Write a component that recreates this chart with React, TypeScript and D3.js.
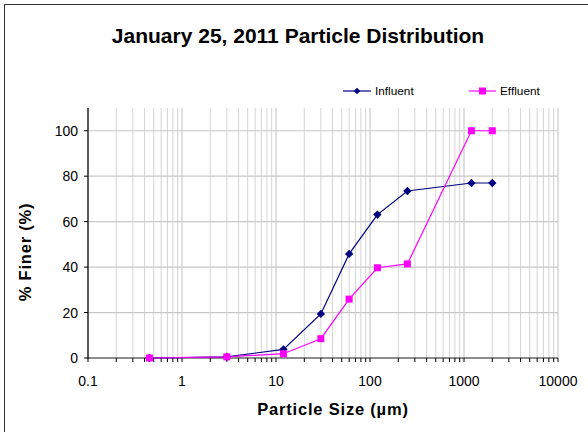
import React from "react";
import * as d3 from "d3";

const sizes = [0.45, 3, 12, 30, 60, 120, 250, 1200, 2000];
const influent = [0, 0.5, 3.8, 19.4, 45.8, 63.1, 73.5, 77, 77];
const effluent = [0, 0.5, 1.9, 8.5, 25.9, 39.7, 41.4, 100, 100];
const xTicks = [0.1, 1, 10, 100, 1000, 10000];
const yTicks = [0, 20, 40, 60, 80, 100];

const W = 588, H = 432;
const L = 88, R = 558, T = 108, B = 358;

const diamond = "M0,-4.2L4.2,0L0,4.2L-4.2,0Z";

export default function App() {
  const x = d3.scaleLog().domain([0.1, 10000]).range([L, R]);
  const y = d3.scaleLinear().domain([0, 110]).range([B, T]);
  const minor: number[] = [];
  for (let e = -1; e < 4; e++) {
    for (let m = 2; m <= 9; m++) minor.push(m * Math.pow(10, e));
  }
  const line = d3
    .line<number>()
    .x((_, i) => x(sizes[i]))
    .y((d) => y(d));
  const font = "Arial, 'Liberation Sans', sans-serif";
  return (
    <svg width={W} height={H} style={{ position: "absolute", left: 0, top: 0 }} fontFamily={font}>
      <rect x={0} y={0} width={W} height={H} fill="#fff" />
      <rect x={4.5} y={4.5} width={W + 10} height={H + 10} fill="none" stroke="#333" strokeWidth={1} />
      <text x={298} y={43} textAnchor="middle" fontSize={21} fontWeight="bold">
        January 25, 2011 Particle Distribution
      </text>
      {/* grid */}
      {minor.map((v) => (
        <line key={"m" + v} x1={x(v)} x2={x(v)} y1={T} y2={B} stroke="#d4d4d4" strokeWidth={1} />
      ))}
      {xTicks.map((v) => (
        <line key={"g" + v} x1={x(v)} x2={x(v)} y1={T} y2={B} stroke="#c0c0c0" strokeWidth={1} />
      ))}
      {yTicks.slice(1).map((v) => (
        <line key={"h" + v} x1={L} x2={R} y1={y(v)} y2={y(v)} stroke="#c8c8c8" strokeWidth={1.2} />
      ))}
      {/* axes */}
      <line x1={L} x2={R} y1={B} y2={B} stroke="#666" strokeWidth={1.5} />
      <line x1={L} x2={L} y1={T} y2={B + 1} stroke="#000" strokeWidth={1.2} />
      {[...minor, ...xTicks].map((v) => (
        <line key={"t" + v} x1={x(v)} x2={x(v)} y1={B} y2={B + 4} stroke="#000" strokeWidth={1} />
      ))}
      {yTicks.map((v) => (
        <line key={"yt" + v} x1={L - 4} x2={L} y1={y(v)} y2={y(v)} stroke="#000" strokeWidth={1} />
      ))}
      {xTicks.map((v) => (
        <text key={"xl" + v} x={x(v)} y={386} textAnchor="middle" fontSize={14}>
          {String(v)}
        </text>
      ))}
      {yTicks.map((v) => (
        <text key={"yl" + v} x={78} y={y(v) + 5} textAnchor="end" fontSize={14}>
          {v}
        </text>
      ))}
      <text x={333} y={415} textAnchor="middle" fontSize={16.5} fontWeight="bold" letterSpacing={0.8}>
        Particle Size (µm)
      </text>
      <text transform="translate(31,252) rotate(-90)" textAnchor="middle" fontSize={16.5} fontWeight="bold" letterSpacing={0.8}>
        % Finer (%)
      </text>
      {/* series */}
      <path d={line(influent) || ""} fill="none" stroke="#000080" strokeWidth={1.2} />
      <path d={line(effluent) || ""} fill="none" stroke="#ff00ff" strokeWidth={1.2} />
      {influent.map((v, i) => (
        <path key={"di" + i} d={diamond} transform={`translate(${x(sizes[i])},${y(v)})`} fill="#000080" />
      ))}
      {effluent.map((v, i) => (
        <rect key={"se" + i} x={x(sizes[i]) - 3.5} y={y(v) - 3.5} width={7} height={7} fill="#ff00ff" />
      ))}
      {/* legend */}
      <line x1={343} x2={371} y1={91} y2={91} stroke="#000080" strokeWidth={1.2} />
      <path d={diamond} transform="translate(357,91) scale(0.8)" fill="#000080" />
      <text x={375} y={95} fontSize={11.8}>Influent</text>
      <line x1={469} x2={496} y1={91} y2={91} stroke="#ff00ff" strokeWidth={1.2} />
      <rect x={479} y={87.5} width={7} height={7} fill="#ff00ff" />
      <text x={500} y={95} fontSize={11.8}>Effluent</text>
    </svg>
  );
}
